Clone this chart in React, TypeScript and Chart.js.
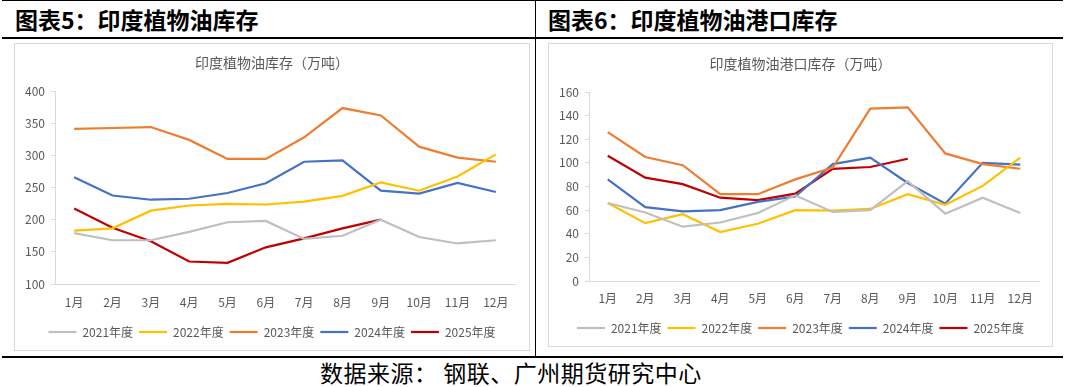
import React, { useEffect, useRef } from "react";
import { Chart, registerables } from "chart.js";

Chart.register(...registerables);

const months = ["1月", "2月", "3月", "4月", "5月", "6月", "7月", "8月", "9月", "10月", "11月", "12月"];
const seriesNames = ["2021年度", "2022年度", "2023年度", "2024年度", "2025年度"];
const seriesColors = ["#BFBFBF", "#FFC000", "#ED7D31", "#4472C4", "#C00000"];

// 图表5：印度植物油库存（万吨）
const stock2021 = [179, 168, 168, 181, 196, 198, 170, 175, 200, 173, 163, 168];
const stock2022 = [183, 186.5, 214, 222, 224.7, 223.6, 228, 237, 258, 245, 267, 301.5];
const stock2023 = [341, 342.5, 344, 324, 294.5, 294.5, 328, 373.5, 362, 313.5, 296.5, 290];
const stock2024 = [266, 237.5, 231, 232.5, 241.5, 256.5, 290, 292, 245, 240.5, 257, 243];
const stock2025 = [217.5, 187.5, 166.5, 135, 133, 157, 171, 186.5, 200];

// 图表6：印度植物油港口库存（万吨）
const port2021 = [66, 58, 46, 49.5, 57.5, 72.5, 58.5, 60, 84.5, 57, 70.5, 57.5];
const port2022 = [66, 49, 56.5, 41.5, 48.5, 60, 59.5, 61, 73.5, 64.5, 80.5, 104.5];
const port2023 = [126, 105, 98, 73.5, 73.5, 86, 96, 146, 147, 108, 99, 95];
const port2024 = [86, 62.5, 59, 60, 67, 71.5, 99, 104.5, 83, 65.5, 100, 98.5];
const port2025 = [106, 87.5, 82, 70.5, 68.5, 74, 95, 96.5, 103.5];

const FONT = '"Noto Sans CJK SC", "Noto Sans", sans-serif';
const TEXT_COLOR = "#595959";
const AXIS_COLOR = "#D9D9D9";

type Geo = {
  x: number; y: number; w: number; h: number;
  pl: number; pr: number; pt: number; pb: number;
  titleY: number; xLabelY: number; legendY: number;
};

function LineChart(props: {
  geo: Geo; title: string; series: number[][]; yMin: number; yMax: number; yStep: number;
}) {
  const ref = useRef<HTMLCanvasElement | null>(null);
  const { geo, title, series, yMin, yMax, yStep } = props;

  useEffect(() => {
    if (!ref.current) return;
    const titleSize = 14;
    const titleLH = titleSize * 1.2;
    const fontSize = 12;
    const legendPad = 6;
    const legendBottom = geo.legendY + 10 + fontSize / 2;
    const legendTop = legendBottom - (fontSize + legendPad + 10);
    const xHeight = legendTop - geo.pb;
    const layoutBottom = geo.h - legendBottom;

    const chart = new Chart(ref.current, {
      type: "line",
      data: {
        labels: months,
        datasets: series.map((vals, i) => ({
          label: seriesNames[i],
          data: vals,
          borderColor: seriesColors[i],
          backgroundColor: seriesColors[i],
          borderWidth: 2.2,
          pointRadius: 0,
          tension: 0,
          fill: false,
        })),
      },
      options: {
        animation: false,
        responsive: false,
        devicePixelRatio: 1,
        layout: { padding: { left: 0, right: 0, top: 0, bottom: layoutBottom } },
        plugins: {
          title: {
            display: true,
            text: title,
            color: TEXT_COLOR,
            font: { family: FONT, size: titleSize, weight: "normal" as any, lineHeight: 1.2 },
            padding: { top: geo.titleY - titleLH / 2, bottom: geo.pt - geo.titleY - titleLH / 2 },
          },
          legend: {
            display: true,
            position: "bottom",
            labels: {
              usePointStyle: true,
              pointStyle: "line",
              pointStyleWidth: 28,
              boxHeight: fontSize,
              padding: legendPad,
              color: TEXT_COLOR,
              font: { family: FONT, size: fontSize },
            },
          },
          tooltip: { enabled: false },
        },
        scales: {
          x: {
            type: "category",
            offset: true,
            grid: { display: false, drawTicks: false },
            border: { display: true, color: AXIS_COLOR, width: 1 },
            ticks: {
              color: TEXT_COLOR,
              font: { family: FONT, size: fontSize },
              padding: geo.xLabelY - geo.pb - fontSize * 0.6,
              maxRotation: 0,
              autoSkip: false,
            },
            afterFit: (s: any) => { s.height = xHeight; },
          },
          y: {
            type: "linear",
            min: yMin,
            max: yMax,
            grid: { display: true, drawOnChartArea: false, drawTicks: true, tickLength: 4, color: AXIS_COLOR },
            border: { display: true, color: AXIS_COLOR, width: 1 },
            ticks: {
              stepSize: yStep,
              color: TEXT_COLOR,
              font: { family: FONT, size: fontSize },
              padding: 6,
            },
            afterFit: (s: any) => { s.width = geo.pl; },
          },
          yR: {
            type: "linear",
            position: "right",
            display: true,
            grid: { display: false, drawTicks: false },
            border: { display: false },
            ticks: { display: false },
            afterFit: (s: any) => { s.width = geo.w - geo.pr; },
          },
        },
      } as any,
    });
    return () => chart.destroy();
  }, []);

  return (
    <>
      <div
        style={{
          position: "absolute", left: geo.x, top: geo.y, width: geo.w, height: geo.h,
          border: "1px solid #D9D9D9", boxSizing: "border-box",
        }}
      />
      <canvas
        ref={ref}
        width={geo.w}
        height={geo.h}
        style={{ position: "absolute", left: geo.x, top: geo.y, width: geo.w, height: geo.h }}
      />
    </>
  );
}

const leftGeo: Geo = { x: 14, y: 43, w: 516, h: 308, pl: 41, pr: 501, pt: 48, pb: 241, titleY: 20, xLabelY: 259, legendY: 289 };
const rightGeo: Geo = { x: 548, y: 43, w: 505, h: 304, pl: 41, pr: 491, pt: 49, pb: 238, titleY: 21, xLabelY: 255, legendY: 285 };

export default function App() {
  const headStyle: React.CSSProperties = {
    position: "absolute", top: 4, fontFamily: FONT, fontWeight: "bold", fontSize: 23,
    lineHeight: "30px", color: "#000", whiteSpace: "nowrap",
  };
  return (
    <div style={{ position: "absolute", left: 0, top: 0, width: 1066, height: 387, background: "#fff", overflow: "hidden" }}>
      <div style={{ position: "absolute", left: 2, top: 0, width: 1061, height: 1, background: "#000" }} />
      <div style={{ position: "absolute", left: 2, top: 37, width: 1061, height: 2, background: "#000" }} />
      <div style={{ position: "absolute", left: 535, top: 0, width: 1, height: 357, background: "#000" }} />
      <div style={{ position: "absolute", left: 2, top: 356, width: 1061, height: 2, background: "#000" }} />
      <div style={{ ...headStyle, left: 15 }}>图表5：印度植物油库存</div>
      <div style={{ ...headStyle, left: 548 }}>图表6：印度植物油港口库存</div>
      <LineChart geo={leftGeo} title="印度植物油库存（万吨）" series={[stock2021, stock2022, stock2023, stock2024, stock2025]} yMin={100} yMax={400} yStep={50} />
      <LineChart geo={rightGeo} title="印度植物油港口库存（万吨）" series={[port2021, port2022, port2023, port2024, port2025]} yMin={0} yMax={160} yStep={20} />
      <div style={{ position: "absolute", left: 320, top: 357, fontFamily: FONT, fontSize: 23, letterSpacing: "0.5px", lineHeight: "30px", color: "#000", whiteSpace: "nowrap" }}>
        数据来源：&nbsp;钢联、广州期货研究中心
      </div>
    </div>
  );
}
